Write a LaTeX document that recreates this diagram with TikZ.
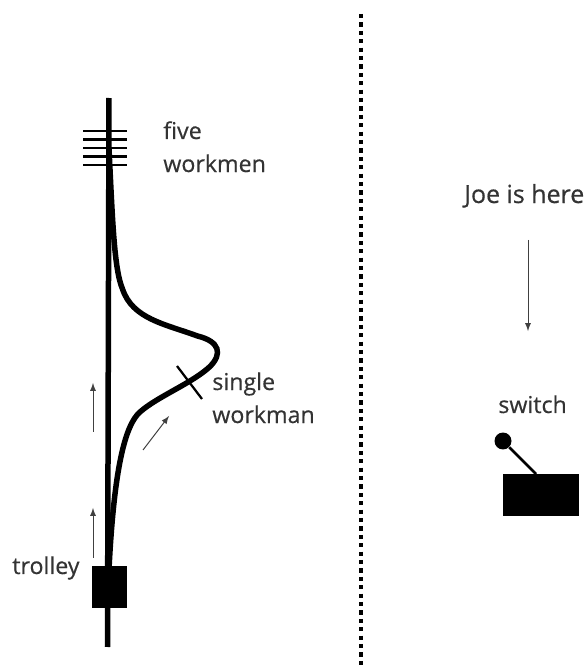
\documentclass[tikz,border=0pt]{standalone}
\usepackage{fontspec}
\setmainfont[FakeBold=0.5]{Open Sans}
\usetikzlibrary{calc, arrows}

\tikzset{
    label text/.style={anchor=base west, text=black!80, font=\fontsize{13.2}{15}\selectfont, inner sep=0pt},
    track/.style={line width=0.11cm, black},
    workman/.style={line width=0.045cm, black},
    motion/.style={->, >=latex, line width=0.02cm, black!75},
    block/.style={fill=black, inner sep=0pt},
}

\begin{document}
\begin{tikzpicture}
        \useasboundingbox (0,0) rectangle (11.74,13.38);
        % divider
        \coordinate (top) at (7.22,13.1);
        \coordinate (bottom) at (7.22,0.04);
        \draw[line width=0.08cm, dash pattern=on 0.085cm off 0.083cm] (top) -- (bottom);
        % main track
        \coordinate (trackend) at (2.15,0.44);
        \coordinate (trackstart) at (2.18,11.42);
        \draw[track] (trackend) -- (trackstart);
        \coordinate (forkin) at (2.18,2.0);
        \coordinate (forkout) at (2.18,10.4);
        \draw[track] (forkin) .. controls (2.28,4.0) and (2.5,4.88) .. (2.8,5.14)
            .. controls (3.15,5.45) and (3.85,5.72) .. (4.2,6.05)
            .. controls (4.45,6.3) and (4.4,6.55) .. (3.95,6.66)
            .. controls (3.3,6.9) and (2.65,7.0) .. (2.45,7.6)
            .. controls (2.28,8.0) and (2.25,9) .. (forkout);
        % workmen on the tracks
        \foreach \y in {10.08,10.25,10.42,10.59,10.76}
            \draw[workman] (1.66,\y) -- (2.54,\y);
        \coordinate (crossa) at (3.54,6.06);
        \coordinate (crossb) at (4.04,5.40);
        \draw[workman] (crossa) -- (crossb);
        % trolley
        \node[block, minimum width=0.7cm, minimum height=0.84cm] (trolley) at (2.19,1.64) {};
        \node[label text] (trolleytext) at (0.24,1.9) {trolley};
        \coordinate (a1) at (1.86,4.74);
        \coordinate (a2) at (1.86,5.72);
        \coordinate (b1) at (1.86,2.22);
        \coordinate (b2) at (1.86,3.22);
        \coordinate (c1) at (2.86,4.38);
        \coordinate (c2) at (3.38,5.06);
        \draw[motion] (a1) -- (a2);
        \draw[motion] (b1) -- (b2);
        \draw[motion] (c1) -- (c2);
        \node[label text] (fivetext) at (3.26,10.6) {five};
        \node[label text] (workmentext) at (3.26,9.94) {workmen};
        \node[label text] (singletext) at (4.24,5.58) {single};
        \node[label text] (workmantext) at (4.24,4.92) {workman};
        % Joe and the switch
        \node[label text, font=\fontsize{14.2}{16}\selectfont] (joe) at (9.28,9.32) {Joe is here};
        \coordinate (d1) at (10.56,8.58);
        \coordinate (d2) at (10.56,6.76);
        \draw[motion] (d1) -- (d2);
        \node[label text] (switchtext) at (9.96,5.12) {switch};
        \node[block, minimum width=1.52cm, minimum height=0.84cm] (switchbox) at (10.82,3.48) {};
        \node[block, circle, minimum size=0.34cm] (knob) at (10.06,4.56) {};
        \coordinate (pivot) at (10.72,3.9);
        \draw[line width=0.05cm] (knob) -- (pivot);
\end{tikzpicture}
\end{document}
